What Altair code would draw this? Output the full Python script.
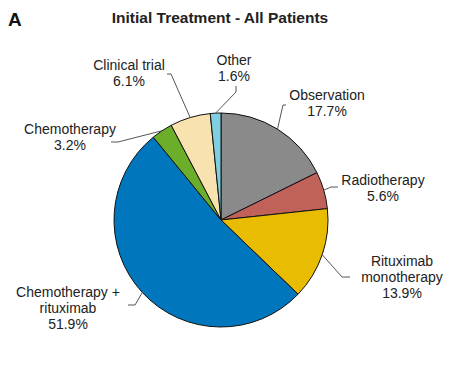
import math
import altair as alt
import pandas as pd

# ---- data ----
categories = ["Observation", "Radiotherapy", "Rituximab monotherapy",
              "Chemotherapy + rituximab", "Chemotherapy", "Clinical trial", "Other"]
values = [17.7, 5.6, 13.9, 51.9, 3.2, 6.1, 1.6]
label_names = [["Observation"], ["Radiotherapy"], ["Rituximab", "monotherapy"],
               ["Chemotherapy +", "rituximab"], ["Chemotherapy"], ["Clinical trial"], ["Other"]]
colors = ["#8a8a8a", "#c1625a", "#e8bc00", "#0076bc", "#6cad2a", "#f8e2b0", "#80cfe0"]

# ---- layout (chart pixel coordinates) ----
M = 8
CX, CY, R = 221 - M, 220 - M, 107
label_anchor = [(327, 100), (383, 185), (402, 266), (68, 297), (70, 134), (129, 70), (234, 65)]
leader_bend = [[(283, 105), (286, 105)],
               [(331, 187), (338, 187)],
               [(342, 277), (350, 277)],
               [(135, 305), (128, 305)],
               [(118, 142), (111, 142)],
               [(171, 74), (167, 74)],
               [(236, 92), (236, 86)]]

pie_df = pd.DataFrame({"cat": categories, "value": values, "idx": list(range(len(values)))})

# label table
lab_rows = []
for i, c in enumerate(categories):
    txt = "\n".join(label_names[i] + [f"{values[i]}%"])
    ax, ay = label_anchor[i]
    lab_rows.append({"cat": c, "text": txt, "x": ax - M, "y": ay - M})
lab_df = pd.DataFrame(lab_rows)

# leader lines: start at slice mid-angle on the rim
total = sum(values)
cum = 0.0
lead_rows = []
for i, c in enumerate(categories):
    mid = (cum + values[i] / 2) / total * 2 * math.pi
    cum += values[i]
    sx = CX + R * math.sin(mid)
    sy = CY - R * math.cos(mid)
    pts = [(sx, sy)] + [(px - M, py - M) for px, py in leader_bend[i]]
    for o, (px, py) in enumerate(pts):
        lead_rows.append({"cat": c, "o": o, "x": px, "y": py})
lead_df = pd.DataFrame(lead_rows)

FONT = "Liberation Sans"

pie = alt.Chart(pie_df).mark_arc(outerRadius=R, stroke="#111111", strokeWidth=1).encode(
    theta=alt.Theta("value:Q", stack=True),
    color=alt.Color("cat:N", scale=alt.Scale(domain=categories, range=colors), legend=None),
    order=alt.Order("idx:Q"),
    x=alt.value(CX),
    y=alt.value(CY),
)

leaders = alt.Chart(lead_df).mark_line(color="#555555", strokeWidth=1).encode(
    x=alt.X("x:Q", scale=None, axis=None),
    y=alt.Y("y:Q", scale=None, axis=None),
    detail="cat:N",
    order="o:Q",
)

labels = alt.Chart(lab_df).mark_text(
    font=FONT, fontSize=14, lineBreak="\n", lineHeight=16, align="center",
    baseline="alphabetic", color="#222222"
).encode(
    x=alt.X("x:Q", scale=None, axis=None),
    y=alt.Y("y:Q", scale=None, axis=None),
    text="text:N",
)

title_df = pd.DataFrame({"text": ["Initial Treatment - All Patients"], "x": [220 - M], "y": [23 - M]})
title = alt.Chart(title_df).mark_text(
    font=FONT, fontSize=15.5, fontWeight="bold", align="center", baseline="alphabetic", color="#222222"
).encode(
    x=alt.X("x:Q", scale=None, axis=None),
    y=alt.Y("y:Q", scale=None, axis=None),
    text="text:N",
)

panel_df = pd.DataFrame({"text": ["A"], "x": [0], "y": [25.5 - M]})
panel = alt.Chart(panel_df).mark_text(
    font=FONT, fontSize=19, fontWeight="bold", align="left", baseline="alphabetic", color="#111111"
).encode(
    x=alt.X("x:Q", scale=None, axis=None),
    y=alt.Y("y:Q", scale=None, axis=None),
    text="text:N",
)

chart = alt.layer(pie, leaders, labels, title, panel).properties(
    width=445, height=350,
    autosize=alt.AutoSizeParams(type="none"),
    padding=0,
    background="white",
).configure_view(stroke=None)

chart.save("out.html", embed_options={"renderer": "svg", "actions": False})
